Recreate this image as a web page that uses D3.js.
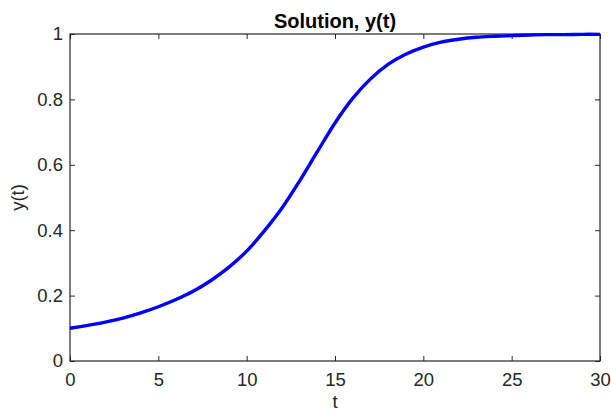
<!DOCTYPE html>
<html>
<head>
<meta charset="utf-8">
<script src="https://cdn.jsdelivr.net/npm/d3@7"></script>
<style>
  html, body { margin: 0; padding: 0; background: #fff; }
  svg { display: block; }
  text { font-family: "Liberation Sans", Arial, Helvetica, sans-serif; fill: #262626; }
</style>
</head>
<body>
<svg id="chart" width="611" height="411"></svg>
<script>
// Data
const tValues = [0,1,2,3,4,5,6,7,8,9,10,11,12,13,14,15,16,17,18,19,20,21,22,23,24,25,26,27,28,29,30];
const yValues = [0.100,0.109,0.119,0.131,0.147,0.166,0.188,0.214,0.247,0.287,0.336,0.398,0.468,0.551,0.640,0.728,0.803,0.862,0.907,0.938,0.960,0.975,0.984,0.990,0.993,0.995,0.997,0.998,0.998,0.999,0.999];
const xTicks = [0,5,10,15,20,25,30];
const yTicks = [0,0.2,0.4,0.6,0.8,1];
const titleText = "Solution, y(t)";
const xLabel = "t";
const yLabel = "y(t)";

const svg = d3.select("#chart");
const mLeft = 70, mRight = 600, mTop = 34, mBottom = 361;

const x = d3.scaleLinear().domain([0, 30]).range([mLeft, mRight]);
const y = d3.scaleLinear().domain([0, 1]).range([mBottom, mTop]);

const axisColor = "#262626";
const tickLen = 5;
const fontSize = 18.5;

// bottom axis
const gx = svg.append("g").attr("transform", `translate(0,${mBottom})`)
  .call(d3.axisBottom(x).tickValues(xTicks).tickFormat(d3.format("d")).tickSizeInner(-tickLen).tickSizeOuter(0).tickPadding(12));
// left axis
const gy = svg.append("g").attr("transform", `translate(${mLeft},0)`)
  .call(d3.axisLeft(y).tickValues(yTicks).tickFormat(d => d === 0 || d === 1 ? d3.format("d")(d) : d3.format(".1f")(d)).tickSizeInner(-tickLen).tickSizeOuter(0).tickPadding(7));
// top axis (mirror ticks)
const gt = svg.append("g").attr("transform", `translate(0,${mTop})`)
  .call(d3.axisTop(x).tickValues(xTicks).tickFormat("").tickSizeInner(-tickLen).tickSizeOuter(0));
// right axis (mirror ticks)
const gr = svg.append("g").attr("transform", `translate(${mRight},0)`)
  .call(d3.axisRight(y).tickValues(yTicks).tickFormat("").tickSizeInner(-tickLen).tickSizeOuter(0));

[gx, gy, gt, gr].forEach(g => {
  g.select(".domain").remove();
  g.selectAll(".tick line").attr("stroke", axisColor).attr("stroke-width", 1);
  g.selectAll(".tick text").attr("font-size", fontSize).style("fill", axisColor)
    .attr("font-family", "'Liberation Sans', Arial, Helvetica, sans-serif");
});

// box
svg.append("rect")
  .attr("x", mLeft).attr("y", mTop)
  .attr("width", mRight - mLeft).attr("height", mBottom - mTop)
  .attr("fill", "none").attr("stroke", axisColor).attr("stroke-width", 1.2);

// curve
const line = d3.line()
  .x((d, i) => x(tValues[i]))
  .y(d => y(d))
  .curve(d3.curveCatmullRom.alpha(0.5));

svg.append("path")
  .datum(yValues)
  .attr("d", line)
  .attr("fill", "none")
  .attr("stroke", "#0000ff")
  .attr("stroke-width", 3.4)
  .attr("stroke-linejoin", "round");

// title
svg.append("text")
  .attr("x", (mLeft + mRight) / 2).attr("y", 28)
  .attr("text-anchor", "middle")
  .attr("font-size", 20).attr("font-weight", "bold")
  .style("fill", "#000")
  .text(titleText);

// x label
svg.append("text")
  .attr("x", (mLeft + mRight) / 2).attr("y", 408)
  .attr("text-anchor", "middle")
  .attr("font-size", fontSize)
  .text(xLabel);

// y label
svg.append("text")
  .attr("transform", `translate(24,${(mTop + mBottom) / 2}) rotate(-90)`)
  .attr("text-anchor", "middle")
  .attr("font-size", fontSize)
  .text(yLabel);
</script>
</body>
</html>
